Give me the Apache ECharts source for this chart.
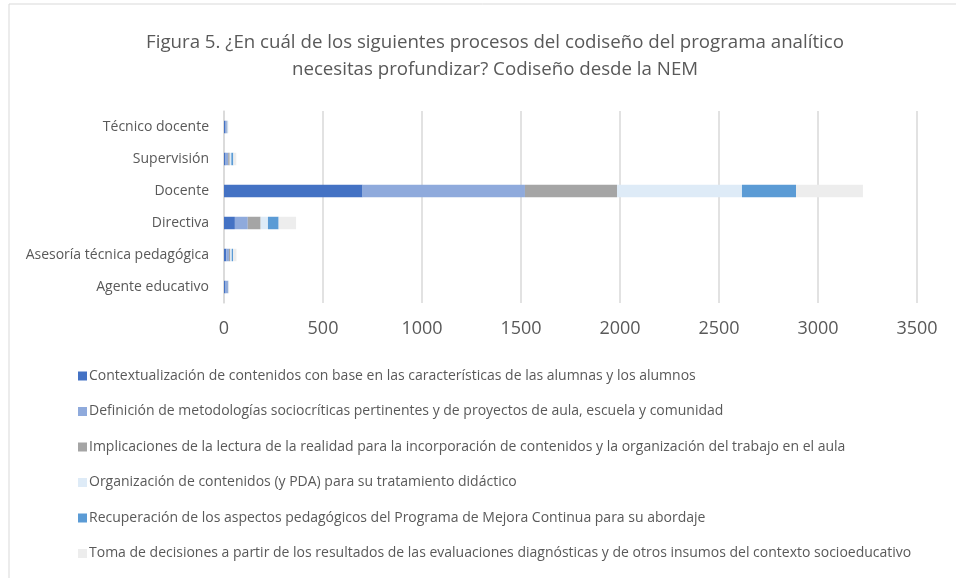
<!DOCTYPE html>
<html>
<head>
<meta charset="utf-8">
<script src="https://cdn.jsdelivr.net/npm/echarts@6/dist/echarts.min.js"></script>
<style>
  html, body { margin: 0; padding: 0; background: #fff; }
  #chart { width: 956px; height: 578px; }
</style>
</head>
<body>
<div id="chart"></div>
<script>
// categories, bottom to top as ECharts draws them
var roles = ['Agente educativo', 'Asesoría técnica pedagógica', 'Directiva', 'Docente', 'Supervisión', 'Técnico docente'];

var seriesNames = [
  'Contextualización de contenidos con base en las características de las alumnas y los alumnos',
  'Definición de metodologías sociocríticas pertinentes y de proyectos de aula, escuela y comunidad',
  'Implicaciones de la lectura de la realidad para la incorporación de contenidos y la organización del trabajo en el aula',
  'Organización de contenidos (y PDA) para su tratamiento didáctico',
  'Recuperación de los aspectos pedagógicos del Programa de Mejora Continua para su abordaje',
  'Toma de decisiones a partir de los resultados de las evaluaciones diagnósticas y de otros insumos del contexto socioeducativo'
];

var contextualizacion = [8, 12, 55, 700, 8, 8];
var definicion = [12, 13, 65, 820, 13, 6];
var implicaciones = [1, 7, 65, 465, 8, 2];
var organizacion = [1, 7, 37, 631, 8, 3];
var recuperacion = [1, 7, 54, 273, 10, 1];
var tomaDecisiones = [3, 17, 88, 338, 15, 2];

var xTicks = [0, 500, 1000, 1500, 2000, 2500, 3000, 3500];

var colors = ['#4472C4', '#8FAADC', '#A5A5A5', '#DEEBF7', '#5B9BD5', '#EDEDED'];
var values = [contextualizacion, definicion, implicaciones, organizacion, recuperacion, tomaDecisiones];

var font = 'Open Sans';
var chart = echarts.init(document.getElementById('chart'));

var series = [];
for (var i = 0; i < seriesNames.length; i++) {
  series.push({
    name: seriesNames[i],
    type: 'bar',
    stack: 'total',
    barWidth: '39%',
    itemStyle: { color: colors[i] },
    emphasis: { disabled: true },
    data: values[i]
  });
}

chart.setOption({
  animation: false,
  textStyle: { fontFamily: font },
  title: {
    text: 'Figura 5. ¿En cuál de los siguientes procesos del codiseño del programa analítico\nnecesitas profundizar? Codiseño desde la NEM',
    left: 490,
    top: 24,
    textAlign: 'center',
    padding: 5,
    textStyle: {
      fontFamily: font,
      fontSize: 18.7,
      fontWeight: 'normal',
      color: '#595959',
      lineHeight: 27
    }
  },
  grid: {
    left: 224,
    right: 39,
    top: 111,
    bottom: 275,
    containLabel: false
  },
  xAxis: {
    type: 'value',
    min: xTicks[0],
    max: xTicks[xTicks.length - 1],
    interval: 500,
    axisLine: { show: false },
    axisTick: { show: false },
    splitLine: { lineStyle: { color: '#D9D9D9', width: 1.5 } },
    axisLabel: {
      color: '#595959',
      fontSize: 18,
      margin: 17,
      formatter: function (v) { return String(v); }
    }
  },
  yAxis: {
    type: 'category',
    data: roles,
    axisLine: { show: true, lineStyle: { color: '#D9D9D9', width: 1.5 } },
    axisTick: { show: false },
    axisLabel: {
      color: '#595959',
      fontSize: 14,
      margin: 15
    }
  },
  legend: {
    orient: 'vertical',
    left: 78,
    top: 369,
    padding: 0,
    itemWidth: 9,
    itemHeight: 9,
    itemGap: 21.5,
    icon: 'rect',
    selectedMode: false,
    textStyle: {
      color: '#595959',
      fontSize: 14,
      padding: [0, 0, 0, -3]
    },
    data: seriesNames
  },
  graphic: [
    { type: 'line', shape: { x1: 9, y1: 4, x2: 956, y2: 4 }, style: { stroke: '#D9D9D9', lineWidth: 1 } },
    { type: 'line', shape: { x1: 9, y1: 4, x2: 9, y2: 578 }, style: { stroke: '#D9D9D9', lineWidth: 1 } }
  ],
  series: series
});
</script>
</body>
</html>
